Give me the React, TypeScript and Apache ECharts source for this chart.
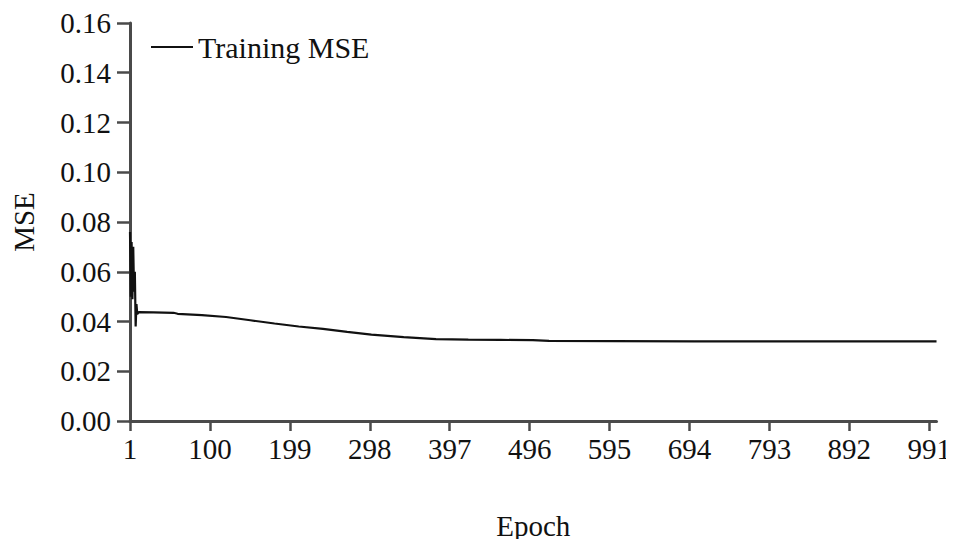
import React, { useEffect, useRef } from "react";
import * as echarts from "echarts";

// Epoch index range of the training run
const EPOCH_COUNT = 1000;
const epochCategories = Array.from({ length: EPOCH_COUNT }, (_, i) => String(i + 1));

// Sampled training MSE per epoch
const epochs = [
  1, 2, 3, 4, 5, 6, 7, 8, 9, 10, 12,
  30, 55, 60, 90, 120, 150, 180, 210, 240, 270, 300, 340, 380, 420,
  460, 500, 520, 600, 700, 800, 900, 1000,
];
const trainingMse = [
  0.076, 0.05, 0.072, 0.049, 0.07, 0.052, 0.06, 0.038, 0.047, 0.043, 0.0438,
  0.0437, 0.0435, 0.0431, 0.0426, 0.0418, 0.0405, 0.0392, 0.038, 0.037,
  0.0358, 0.0347, 0.0337, 0.0329, 0.0327, 0.0326, 0.0325, 0.0322, 0.0321,
  0.032, 0.032, 0.032, 0.032,
];

const yTicks = { min: 0, max: 0.16, step: 0.02 };

const FONT = "'Liberation Serif', 'Times New Roman', serif";
const AXIS_COLOR = "#4a4a4a";

export default function App() {
  const ref = useRef<HTMLDivElement>(null);

  useEffect(() => {
    if (!ref.current) return;
    const chart = echarts.init(ref.current, undefined, { renderer: "svg" });
    chart.setOption({
      animation: false,
      backgroundColor: "#ffffff",
      grid: { left: 130, top: 23, right: 14, bottom: 126, containLabel: false },
      legend: {
        left: 146,
        top: 27,
        itemWidth: 42,
        itemHeight: 2,
        itemGap: 4,
        icon: "rect",
        textStyle: { fontFamily: FONT, fontSize: 30, color: "#111" },
        data: ["Training MSE"],
      },
      xAxis: {
        type: "category",
        data: epochCategories,
        boundaryGap: false,
        name: "Epoch",
        nameLocation: "middle",
        nameGap: 90,
        nameTextStyle: { fontFamily: FONT, fontSize: 29, color: "#111" },
        axisLine: { lineStyle: { color: AXIS_COLOR, width: 3 } },
        axisTick: { interval: 98, length: 10, lineStyle: { color: AXIS_COLOR, width: 2.5 } },
        axisLabel: {
          interval: 98,
          margin: 13,
          fontFamily: FONT,
          fontSize: 29,
          color: "#111",
        },
        splitLine: { show: false },
      },
      yAxis: {
        type: "value",
        min: yTicks.min,
        max: yTicks.max,
        interval: yTicks.step,
        name: "MSE",
        nameLocation: "middle",
        nameGap: 92,
        nameRotate: 90,
        nameTextStyle: { fontFamily: FONT, fontSize: 29, color: "#111" },
        axisLine: { show: true, lineStyle: { color: AXIS_COLOR, width: 3 } },
        axisTick: { show: true, length: 13, lineStyle: { color: AXIS_COLOR, width: 2.5 } },
        axisLabel: {
          margin: 19,
          fontFamily: FONT,
          fontSize: 29,
          color: "#111",
          formatter: (v: number) => v.toFixed(2),
        },
        splitLine: { show: false },
      },
      series: [
        {
          name: "Training MSE",
          type: "line",
          data: epochs.map((e, i) => [e - 1, trainingMse[i]]),
          showSymbol: false,
          symbol: "none",
          lineStyle: { color: "#111", width: 2.2 },
          itemStyle: { color: "#111" },
        },
      ],
    });
    return () => chart.dispose();
  }, []);

  return <div ref={ref} style={{ width: 954, height: 547, margin: -8 }} />;
}
